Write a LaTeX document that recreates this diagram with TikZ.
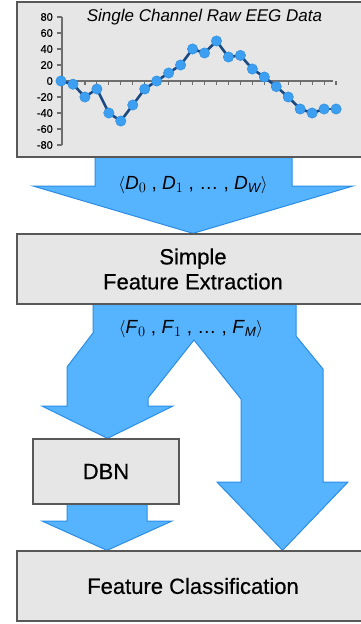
\documentclass[tikz,border=0pt]{standalone}
\usepackage{amsmath}
\usepackage{fontspec}
\setmainfont{Liberation Sans}
\newfontfamily\labelfont[FakeBold=0.5]{Liberation Sans}
\usetikzlibrary{backgrounds}

\definecolor{arrowfill}{HTML}{56B3FD}
\definecolor{arrowline}{HTML}{2B8DE6}
\definecolor{boxfill}{HTML}{E6E6E6}
\definecolor{boxline}{HTML}{585858}
\definecolor{trace}{HTML}{1B4A82}
\definecolor{dotfill}{HTML}{3D9FF2}
\definecolor{dotline}{HTML}{2A88DA}
\definecolor{axisgray}{HTML}{6E6E6E}

\tikzset{
  stagebox/.style={draw=boxline, fill=boxfill, line width=1.3pt, inner sep=0pt,
    align=center, font=\labelfont\fontsize{22}{25}\selectfont},
  blockarrow/.style={fill=arrowfill, draw=arrowline, line width=1pt, line join=miter},
  seqlabel/.style={font=\fontsize{19}{22}\selectfont, anchor=base, inner sep=0pt},
  axisline/.style={draw=axisgray, line width=1.2pt},
  ticklabel/.style={font=\labelfont\fontsize{11}{13}\selectfont, anchor=east, inner sep=0pt},
  sample/.style={fill=dotfill, draw=dotline, line width=0.4pt},
}

\begin{document}
\begin{tikzpicture}[x=1pt, y=-1pt]
\useasboundingbox (0,0) rectangle (361,624);
\clip (0,0) rectangle (361,624);

% stage boxes (the wide ones run off the right edge)
\node[stagebox, minimum width=352pt, minimum height=155pt] (eeg) at (193,79.5) {};
\node[stagebox, minimum width=352pt, minimum height=70pt] (fe) at (193,269) {Simple\\Feature Extraction};
\node[stagebox, minimum width=146pt, minimum height=65pt] (dbn) at (106,471.5) {\raisebox{-2pt}{DBN}};
\node[stagebox, minimum width=352pt, minimum height=70pt] (fc) at (193,586) {Feature Classification};

% block arrows between the stages
\begin{pgfonlayer}{background}
  % raw data -> feature extraction
  \path[blockarrow] (95,0 |- eeg.south) -- (95,186) -- (33,186) -- (193,0 |- fe.north)
    -- (353,186) -- (292,186) -- (292,0 |- eeg.south) -- cycle;
  % features split: to DBN and straight to classification
  \path[blockarrow] (93,0 |- fe.south) -- (93,333) -- (67,367) -- (67,406) -- (42,406)
    -- (107.5,0 |- dbn.north) -- (173,406) -- (148,406) -- (148,398) -- (194,340)
    -- (241,399) -- (241,482) -- (217,482) -- (282.5,0 |- fc.north) -- (348,482)
    -- (323,482) -- (323,369) -- (296,336) -- (296,0 |- fe.south) -- cycle;
  % DBN -> classification
  \path[blockarrow] (67,0 |- dbn.south) -- (67,521) -- (42,521) -- (107,0 |- fc.north)
    -- (172,521) -- (147,521) -- (147,0 |- dbn.south) -- cycle;
\end{pgfonlayer}

% sequence labels on the arrows
\node[seqlabel] (dseq) at (193,189)
  {$\langle$\textit{D}$_0$ , \textit{D}$_1$ , … , \textit{D}$_{\textit{W}}$$\rangle$};
\node[seqlabel] (fseq) at (191,333)
  {$\langle$\textit{F}$_0$ , \textit{F}$_1$ , … , \textit{F}$_{\textit{M}}$$\rangle$};

% chart title
\node[font=\fontsize{17}{20}\selectfont\itshape, anchor=base, inner sep=0pt] (title)
  at (204.5,21.5) {Single Channel Raw EEG Data};

% axes
\draw[axisline] (62,17) -- (62,145);
\foreach \v in {80,60,...,-80} {
  \draw[axisline] (57,{81-0.8*\v}) -- (62,{81-0.8*\v});
  \node[ticklabel] at (53,{81-0.8*\v}) {\v};
}
\draw[axisline] (62,81) -- (333,81);
\foreach \i in {1,...,23}
  \draw[axisline] ({61+11.96*\i},81) -- ({61+11.96*\i},85);

% samples
\foreach \v [count=\i from 0] in {0,-4,-20,-10,-40,-50,-30,-10,0,10,20,40,35,50,30,32,15,5,-7,-20,-35,-40,-35,-35}
  \coordinate (p\i) at ({61+11.96*\i},{81-0.8*\v});
\foreach \i [evaluate=\i as \j using int(\i+1)] in {0,...,22}
  \draw[trace, line width=2.6pt] (p\i) -- (p\j);
\foreach \i in {0,...,23}
  \draw[sample] (p\i) circle (5.2pt);
\end{tikzpicture}
\end{document}
